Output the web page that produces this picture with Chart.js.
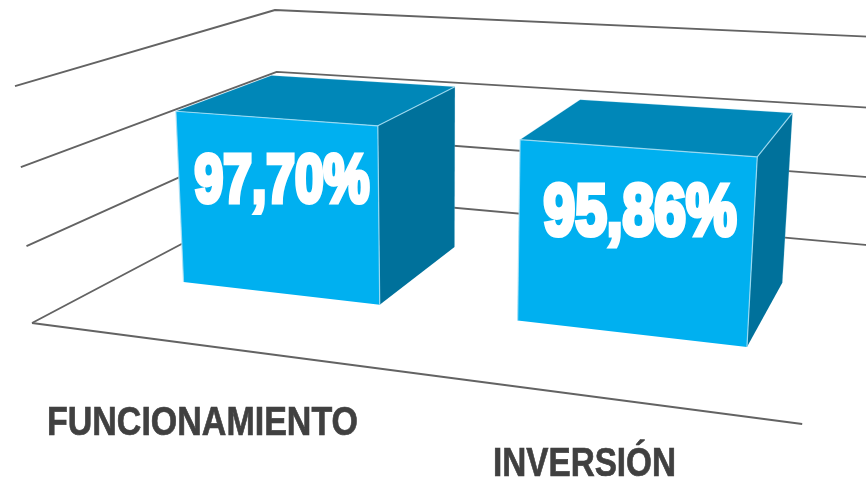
<!DOCTYPE html>
<html>
<head>
<meta charset="utf-8">
<style>html,body{margin:0;padding:0;background:#fff}canvas{display:block}</style>
<script src="https://cdn.jsdelivr.net/npm/chart.js@4/dist/chart.umd.min.js"></script>
</head>
<body>
<canvas id="c" width="866" height="478"></canvas>
<script>
const categories = ['FUNCIONAMIENTO', 'INVERSIÓN'];
const values = [97.70, 95.86];
const valueLabels = ['97,70%', '95,86%'];
const axisMax = 125;
const gridSteps = 3;

// Camera: maps normalised plot X, Y and depth Z to the page
const cam = [[633.8, -17.6, 337.3, 32], [28.9, -240.4, -69.8, 323], [-0.17, -0.04, 0.3188, 1]];
const barDepthFront = 0.305;
const barDepthBack = [0.705, 0.685];
const barStretch = [3, 0];
const catStyle = [{cx: 202.5, base: 435, width: 311}, {cx: 584.5, base: 476, width: 183}];
const valStyle = [{size: 69, width: 180, x: 282, y: 204}, {size: 72, width: 198, x: 640, y: 237}];

const isoPlugin = {
  id: 'iso',
  beforeDatasetsDraw(chart) {
    const ctx = chart.ctx, a = chart.chartArea, ys = chart.scales.y;
    const P = (px, py, z) => {
      const X = (px - a.left) / (a.right - a.left), Y = (a.bottom - py) / (a.bottom - a.top);
      const h = cam.map(r => r[0] * X + r[1] * Y + r[2] * z + r[3]);
      return [h[0] / h[2], h[1] / h[2]];
    };
    const poly = (pts, fill, stroke, lw) => {
      ctx.beginPath();
      pts.forEach((p, i) => i ? ctx.lineTo(p[0], p[1]) : ctx.moveTo(p[0], p[1]));
      if (fill) { ctx.closePath(); ctx.fillStyle = fill; ctx.fill(); }
      if (stroke) { ctx.strokeStyle = stroke; ctx.lineWidth = lw; ctx.stroke(); }
    };
    const fitText = (text, font, width, x, y, color, sw) => {
      ctx.font = font;
      ctx.textAlign = 'center'; ctx.textBaseline = 'alphabetic';
      const w = ctx.measureText(text).width;
      ctx.save();
      ctx.translate(x, y);
      ctx.scale(width / w, 1);
      ctx.fillStyle = color;
      ctx.strokeStyle = color; ctx.lineWidth = sw; ctx.lineJoin = 'miter';
      ctx.strokeText(text, 0, -sw / 2);
      ctx.fillText(text, 0, -sw / 2);
      ctx.restore();
    };
    ctx.save();
    ctx.lineJoin = 'round';
    ctx.filter = 'blur(0.45px)';
    // walls
    ys.ticks.forEach(t => {
      const py = ys.getPixelForValue(t.value);
      poly([P(a.left, py, 0), P(a.left, py, 1), P(a.right, py, 1)], null, '#636363', 1.9);
    });
    const py0 = ys.getPixelForValue(0);
    poly([P(a.left, py0, 0), P(a.right, py0, 0)], null, '#636363', 1.9);
    // boxes
    const ds = chart.data.datasets[0];
    chart.getDatasetMeta(0).data.forEach((b, i) => {
      const l = b.x - b.width / 2, r = b.x + b.width / 2 + barStretch[i], t = b.y, o = b.base;
      const z0 = barDepthFront, z1 = barDepthBack[i];
      const ftl = P(l, t, z0), ftr = P(r, t, z0), fbr = P(r, o, z0), fbl = P(l, o, z0);
      const btl = P(l, t, z1), btr = P(r, t, z1), bbr = P(r, o, z1);
      poly([ftr, btr, bbr, fbr], ds.sideColor);
      poly([ftl, btl, btr, ftr], ds.topColor);
      poly([ftl, ftr, fbr, fbl], ds.backgroundColor);
      poly([fbl, ftl, ftr, fbr], null, ds.edgeColor, 1.2);
      poly([ftr, btr], null, ds.edgeColor, 1.2);
      poly([ftl, btl, btr, bbr], null, 'rgba(150,215,240,0.2)', 1);
      const v = valStyle[i];
      fitText(valueLabels[i], 'bold ' + v.size + 'px "Liberation Sans"', v.width - 5, v.x, v.y, '#fff', 5);
      const s = catStyle[i];
      fitText(chart.data.labels[i], 'bold 41px "Liberation Sans"', s.width, s.cx, s.base, '#404040', 0.7);
    });
    ctx.restore();
    return false;
  }
};

new Chart(document.getElementById('c'), {
  type: 'bar',
  data: {
    labels: categories,
    datasets: [{
      data: values,
      backgroundColor: '#00b0f0',
      topColor: '#0087b8',
      sideColor: '#00719b',
      edgeColor: 'rgba(170,225,245,0.85)',
      barPercentage: 0.6,
      categoryPercentage: 1
    }]
  },
  options: {
    responsive: false,
    animation: false,
    devicePixelRatio: 1,
    layout: {padding: 0},
    plugins: {legend: {display: false}, tooltip: {enabled: false}},
    scales: {
      x: {display: false},
      y: {display: false, min: 0, max: axisMax, ticks: {stepSize: axisMax / gridSteps}}
    }
  },
  plugins: [isoPlugin]
});
</script>
</body>
</html>
